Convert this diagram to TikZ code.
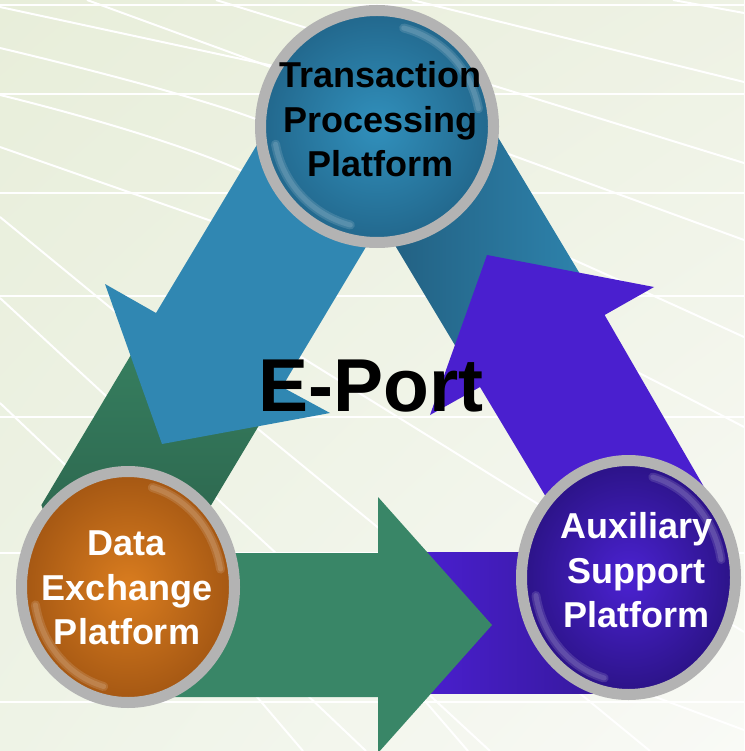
\documentclass[tikz,border=0pt]{standalone}
\usepackage{fontspec}
\setmainfont{Liberation Sans}
\usepackage{tikz}
\usetikzlibrary{shapes.geometric,shadings}
\definecolor{bgul}{HTML}{E8EEDA}
\definecolor{bgur}{HTML}{EEF2E4}
\definecolor{bgll}{HTML}{EEF3E6}
\definecolor{bglr}{HTML}{F9FAF6}
\definecolor{tblue}{HTML}{3087B2}
\definecolor{tbluedark}{HTML}{1F5675}
\definecolor{tbluemid}{HTML}{2E84AE}
\definecolor{dgreen}{HTML}{398667}
\definecolor{dgreentop}{HTML}{378161}
\definecolor{dgreenbot}{HTML}{275844}
\definecolor{apurple}{HTML}{4A1FCF}
\definecolor{apurpledark}{HTML}{321792}
\definecolor{ringgrey}{HTML}{B3B3B3}
\definecolor{orangein}{HTML}{DA7D1F}
\definecolor{orangeout}{HTML}{A45713}
\definecolor{bluein}{HTML}{3190BC}
\definecolor{blueout}{HTML}{22678C}
\definecolor{purplein}{HTML}{4B22D2}
\definecolor{purpleout}{HTML}{2B1386}
\tikzset{
  platform/.style={ellipse, draw=ringgrey, line width=11pt, inner sep=0pt},
  ptext/.style={align=center, inner sep=0pt, font=\fontsize{36}{44.5}\selectfont\bfseries},
  bgline/.style={white, line width=2pt},
  gloss/.style={white, opacity=0.13, line width=9pt, line cap=round}
}

\begin{document}
\begin{tikzpicture}[x=1pt, y=-1pt]
  \useasboundingbox (0,0) rectangle (744,751);
  \clip (0,0) rectangle (744,751);

  % Background with a pale grid
  \shade[upper left=bgul, upper right=bgur, lower left=bgll, lower right=bglr]
    (0,0) rectangle (744,751);
  \foreach \y in {5,94,193,296,417,553,702}
    \draw[bgline] (0,\y) -- (744,\y);
  \foreach \xa/\ya/\xb/\yb in {0/7/320/76, 87/0/744/240, 216/0/744/163, 412/0/744/82,
      673/0/744/13, 0/147/300/252, 0/217/650/751, 0/298/490/751, 0/403/366/751,
      190/288/744/632, 240/677/303/751, 400/672/468/751, 650/695/744/730}
    \draw[bgline] (\xa,\ya) -- (\xb,\yb);
  \draw[bgline] plot[smooth] coordinates {(0,48) (253,118) (574,260) (744,337)};
  \draw[bgline] plot[smooth] coordinates {(0,95) (240,170) (647,377) (744,427)};

  % Blue arrow, back leg
  \shade[left color=tbluedark, right color=tbluemid]
    (325.8,130) -- (493.6,130) -- (594.4,298) -- (469.8,370) -- cycle;

  % Purple arrow, leg and head
  \fill[apurple] (714.4,505) -- (604.6,315) -- (654,287) -- (487,255)
    -- (430,415) -- (480,387) -- (579,552) -- cycle;
  \shade[left color=apurple, right color=apurpledark] (420,552) rectangle (640,693);

  % Green arrow, leg and head
  \fill[dgreen] (100,553) -- (378,553) -- (378,497) -- (492,625) -- (378,753)
    -- (378,697) -- (100,697) -- cycle;
  \shade[top color=dgreentop, bottom color=dgreenbot]
    (145.8,330) -- (41.4,505) -- (90,640) -- (182.4,553) -- (271.8,404) -- cycle;

  % Blue arrow, front leg and head
  \fill[tblue] (265.8,130) -- (156,313) -- (105,284) -- (162,444) -- (330,413)
    -- (282,387) -- (436,130) -- cycle;

  % Title
  \node[font=\fontsize{75}{80}\selectfont\bfseries, anchor=base west, inner sep=0pt]
    (eport) at (258,411.7) {E-Port};

  % The three platforms
  \node[platform, minimum width=233pt, minimum height=232pt,
    inner color=bluein, outer color=blueout] (tpp) at (377,126.5) {};
  \node[platform, minimum width=213pt, minimum height=231pt,
    inner color=orangein, outer color=orangeout] (dep) at (128,587) {};
  \node[platform, minimum width=214pt, minimum height=234pt,
    inner color=purplein, outer color=purpleout] (asp) at (628.5,577.5) {};

  % Glossy highlights
  \foreach \w in {9pt,5pt} {
    \draw[gloss, line width=\w] (tpp.center) ++(-10:103 and 102) arc[start angle=-10, end angle=-75, x radius=103, y radius=102];
    \draw[gloss, line width=\w] (tpp.center) ++(170:103 and 102) arc[start angle=170, end angle=105, x radius=103, y radius=102];
    \draw[gloss, line width=\w] (dep.center) ++(-10:94 and 103) arc[start angle=-10, end angle=-75, x radius=94, y radius=103];
    \draw[gloss, line width=\w] (dep.center) ++(170:94 and 103) arc[start angle=170, end angle=105, x radius=94, y radius=103];
    \draw[gloss, line width=\w] (asp.center) ++(-10:94 and 104) arc[start angle=-10, end angle=-75, x radius=94, y radius=104];
    \draw[gloss, line width=\w] (asp.center) ++(170:94 and 104) arc[start angle=170, end angle=105, x radius=94, y radius=104];
  }

  % Labels
  \node[ptext] (tpptext) at (380.5,119.5) {Transaction\\Processing\\Platform};
  \node[ptext, white] (deptext) at (127,588) {Data\\Exchange\\Platform};
  \node[ptext, white] (asptext) at (636.5,570.5) {Auxiliary\\Support\\Platform};
\end{tikzpicture}
\end{document}
